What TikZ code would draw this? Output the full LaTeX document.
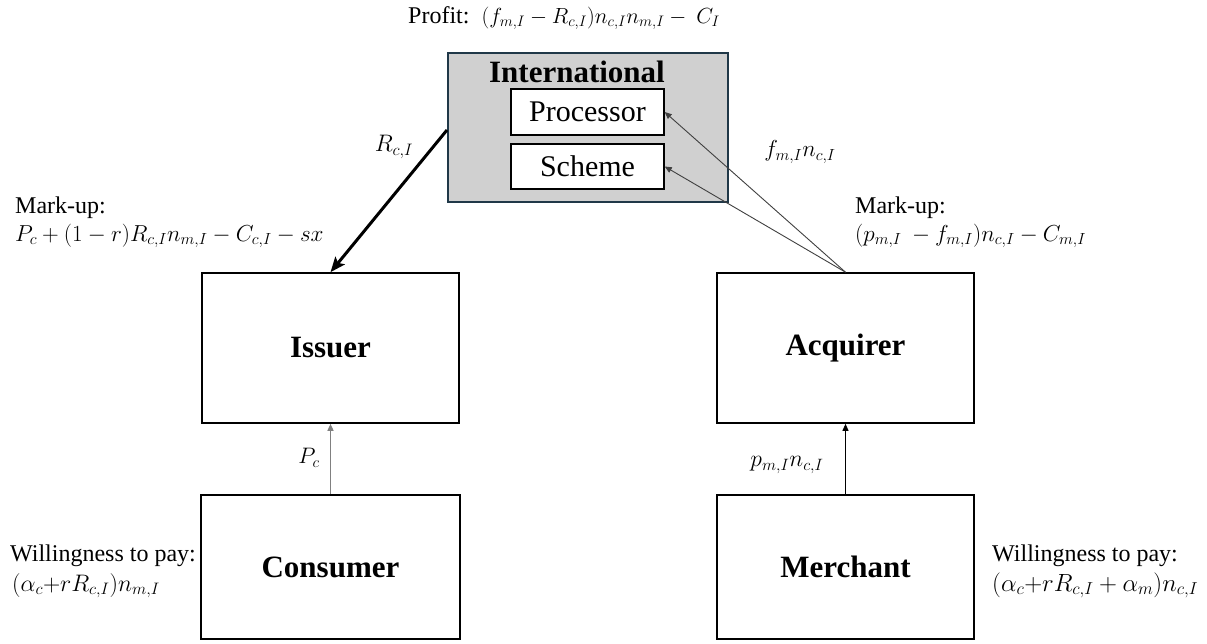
\documentclass[tikz,border=0pt]{standalone}
\usepackage{graphicx}
\usepackage{fontspec}
\setmainfont{Liberation Serif}
\usetikzlibrary{arrows.meta}
\begin{document}
\begin{tikzpicture}[x=1pt,y=-1pt,
  box/.style={draw=black, line width=1.6pt, fill=white, inner sep=0pt},
  subbox/.style={draw=black, line width=1.4pt, fill=white, inner sep=0pt,
    minimum width=153pt, font=\fontsize{30}{34}\selectfont},
  boxlabel/.style={font=\fontsize{31}{35}\selectfont\bfseries},
  note/.style={inner sep=0pt, anchor=base west, font=\fontsize{24}{28}\selectfont},
  formula/.style={inner sep=0pt, anchor=base west, font=\fontsize{23}{27}\selectfont},
  flowlabel/.style={inner sep=0pt, font=\fontsize{23}{27}\selectfont},
  thinarrow/.style={draw=black!75, line width=0.9pt, -{Triangle[length=7pt,width=6pt]}},
  heavyarrow/.style={draw=black, line width=3pt, -{Stealth[length=15pt,width=12pt,inset=3pt]}}
]
\useasboundingbox (0,0) rectangle (1207,643);

% International block with its two inner units
\node[draw={rgb,255:red,32;green,56;blue,72}, line width=2pt, fill={rgb,255:red,208;green,208;blue,208},
      minimum width=280pt, minimum height=149pt, inner sep=0pt] (intl) at (588,127.5) {};
\node[boxlabel, inner sep=0pt] (intltitle) at (577,72) {International};
\node[subbox, minimum height=46pt] (proc) at (587.5,112) {Processor};
\node[subbox, minimum height=45pt] (scheme) at (587.5,166.5) {Scheme};

% Market participants
\node[box, minimum width=257pt, minimum height=150pt, boxlabel] (issuer) at (330.5,348) {Issuer};
\node[box, minimum width=257pt, minimum height=150pt, boxlabel] (acquirer) at (845.5,348) {Acquirer};
\node[box, minimum width=259pt, minimum height=144pt, boxlabel] (consumer) at (330.5,567) {Consumer};
\node[box, minimum width=257pt, minimum height=144pt, boxlabel] (merchant) at (845.5,567) {Merchant};

% Payment flows
\draw[heavyarrow] ([yshift=-2.5pt]intl.west) -- (issuer.north);
\draw[thinarrow] (acquirer.north) -- (proc.east);
\draw[thinarrow] (acquirer.north) -- (scheme.east);
\draw[thinarrow, draw=black!50, line width=1.4pt] (consumer.north) -- (issuer.south);
\draw[thinarrow, draw=black] (merchant.north) -- (acquirer.south);

% Flow labels
\node[flowlabel] (lRc) at (394,147) {\scalebox{0.96}{$R_{c,I}$}};
\node[flowlabel] (lfm) at (800,152) {\scalebox{0.93}{$f_{m,I}n_{c,I}$}};
\node[flowlabel] (lPc) at (309,458) {\scalebox{0.9}{$P_c$}};
\node[flowlabel] (lpm) at (787,465) {\scalebox{0.95}{$p_{m,I}n_{c,I}$}};

% Profit and mark-up annotations
\node[note] (profit) at (408,23) {Profit:\ \ {\fontsize{23}{27}\selectfont\scalebox{0.88}{$(f_{m,I}-R_{c,I})n_{c,I}n_{m,I}-\ C_I$}}};
\node[note] (mkl1) at (15,213) {Mark-up:};
\node[formula] (mkl2) at (15,241) {\scalebox{0.93}{$P_c+(1-r)R_{c,I}n_{m,I}-C_{c,I}-sx$}};
\node[note] (mkr1) at (855,213) {Mark-up:};
\node[formula] (mkr2) at (855,241) {\scalebox{0.93}{$(p_{m,I}\ -f_{m,I})n_{c,I}-C_{m,I}$}};
\node[note] (wl1) at (10,561) {Willingness to pay:};
\node[formula] (wl2) at (12,591) {\scalebox{0.96}{$(\alpha_c{+}rR_{c,I})n_{m,I}$}};
\node[note] (wr1) at (992,561) {Willingness to pay:};
\node[formula] (wr2) at (992,591) {$(\alpha_c{+}rR_{c,I}+\alpha_m)n_{c,I}$};
\end{tikzpicture}
\end{document}
